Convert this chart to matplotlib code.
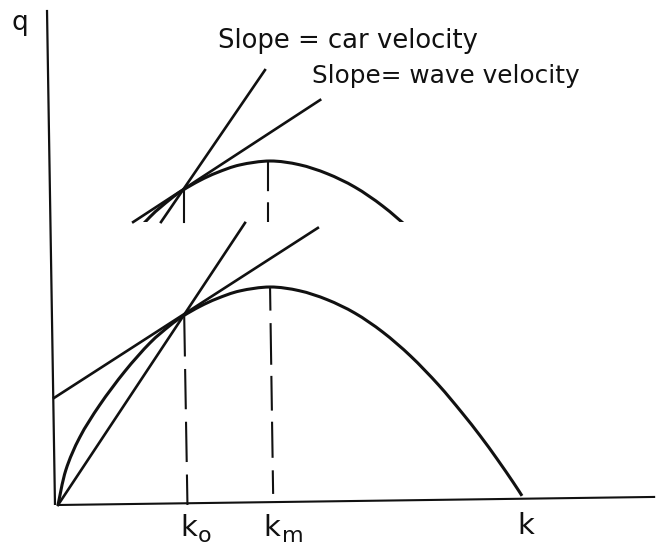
import matplotlib
matplotlib.use("Agg")
import matplotlib.pyplot as plt
from matplotlib.patches import Rectangle, PathPatch
from matplotlib.path import Path

plt.rcParams['font.family'] = ['DejaVu Sans']
plt.rcParams['lines.scale_dashes'] = False

# flow-density curve q(k), normalised (k_jam = 1, q_max = 1)
K = [0, .017, .047, .090, .144, .198, .241, .269, .306, .343, .392, .457,
     .520, .580, .640, .700, .760, .820, .870, .910, .946, .981, 1.0]
Q = [0, .161, .311, .459, .613, .743, .823, .866, .911, .947, .982, 1.0,
     .983, .942, .880, .793, .683, .551, .425, .317, .212, .104, .042]

K0, Q0 = 0.272, 0.866      # point of tangency
KM, QM = 0.457, 1.0        # maximum flow

# main tangent / chord lines  (k pairs, q pairs)
CAR_K, CAR_Q = [0.0, 0.403], [0.0, 1.294]
WAVE_K, WAVE_Q = [-0.0086, 0.560], [0.491, 1.271]

# enlarged upper copy
INSET_SHIFT = 0.578
INSET_FLOOR = 1.298
INSET_CAR_K, INSET_CAR_Q = [0.222, 0.446], [1.298, 1.995]
INSET_WAVE_K, INSET_WAVE_Q = [0.162, 0.565], [1.298, 1.858]

# axes lines (slightly skewed as drawn)
XAXIS_K, XAXIS_Q = [0.0, 1.287], [0.0, 0.037]
YAXIS_K, YAXIS_Q = [-0.0065, -0.0237], [0.0, 2.271]


def smooth_path(xs, ys):
    """Smooth Bezier path through the given points (Catmull-Rom handles)."""
    pts = list(zip(xs, ys))
    n = len(pts)
    verts = [pts[0]]
    codes = [Path.MOVETO]
    for i in range(n - 1):
        p0 = pts[i - 1] if i > 0 else pts[i]
        p1 = pts[i]
        p2 = pts[i + 1]
        p3 = pts[i + 2] if i + 2 < n else pts[i + 1]
        c1 = (p1[0] + (p2[0] - p0[0]) / 6, p1[1] + (p2[1] - p0[1]) / 6)
        c2 = (p2[0] - (p3[0] - p1[0]) / 6, p2[1] - (p3[1] - p1[1]) / 6)
        verts += [c1, c2, p2]
        codes += [Path.CURVE4] * 3
    return Path(verts, codes)


fig = plt.figure(figsize=(6.6, 5.47), dpi=100)
ax = fig.add_axes([0, 0, 1, 1])
ax.set_xlim(-58 / 464, (660 - 58) / 464)
ax.set_ylim(-(547 - 505) / 218, 505 / 218)
ax.axis('off')

ink = '#111111'
# axes
ax.plot(XAXIS_K, XAXIS_Q, color=ink, lw=1.5, solid_capstyle='butt')
ax.plot(YAXIS_K, YAXIS_Q, color=ink, lw=1.6, solid_capstyle='butt')

# main curve and lines
ax.add_patch(PathPatch(smooth_path(K, Q), fill=False, edgecolor=ink, lw=2.2))
ax.plot(CAR_K, CAR_Q, color=ink, lw=1.9)
ax.plot(WAVE_K, WAVE_Q, color=ink, lw=1.9)

ax.plot([K0, K0 + 0.007], [Q0, 0.0], color=ink, lw=1.5, linestyle=(0, (29, 9)))
ax.plot([KM, KM + 0.007], [QM, 0.0], color=ink, lw=1.5,
        linestyle=(0, (17, 9, 30, 8, 25, 8, 26, 9)))

# inset copy
clip = Rectangle((-1, INSET_FLOOR), 3, 3, transform=ax.transData)
Qi = [q + INSET_SHIFT for q in Q]
inset = PathPatch(smooth_path(K, Qi), fill=False, edgecolor=ink, lw=2.2)
ax.add_patch(inset)
inset.set_clip_path(clip)
ax.plot(INSET_CAR_K, INSET_CAR_Q, color=ink, lw=1.9)
ax.plot(INSET_WAVE_K, INSET_WAVE_Q, color=ink, lw=1.9)
ax.plot([K0, K0], [Q0 + INSET_SHIFT, INSET_FLOOR], color=ink, lw=1.5)
ax.plot([KM - 0.004, KM - 0.004], [QM + INSET_SHIFT - 0.005, INSET_FLOOR], color=ink, lw=1.5,
        linestyle=(0, (21, 8)))

# text
ax.text(0.345, 2.096, 'Slope = car velocity', fontsize=18.6, ha='left', va='baseline', color=ink)
ax.text(0.547, 1.936, 'Slope= wave velocity', fontsize=17.8, ha='left', va='baseline', color=ink)
ax.text(-0.082, 2.179, 'q', fontsize=19, ha='center', va='baseline', color=ink)

ax.text(0.263, -0.142, 'k', fontsize=21, ha='left', va='baseline', color=ink)
ax.text(0.302, -0.168, 'o', fontsize=16, ha='left', va='baseline', color=ink)
ax.text(0.442, -0.142, 'k', fontsize=21, ha='left', va='baseline', color=ink)
ax.text(0.483, -0.168, 'm', fontsize=16, ha='left', va='baseline', color=ink)
ax.text(0.989, -0.134, 'k', fontsize=21, ha='left', va='baseline', color=ink)

fig.savefig('out.png', dpi=100, facecolor='white')
